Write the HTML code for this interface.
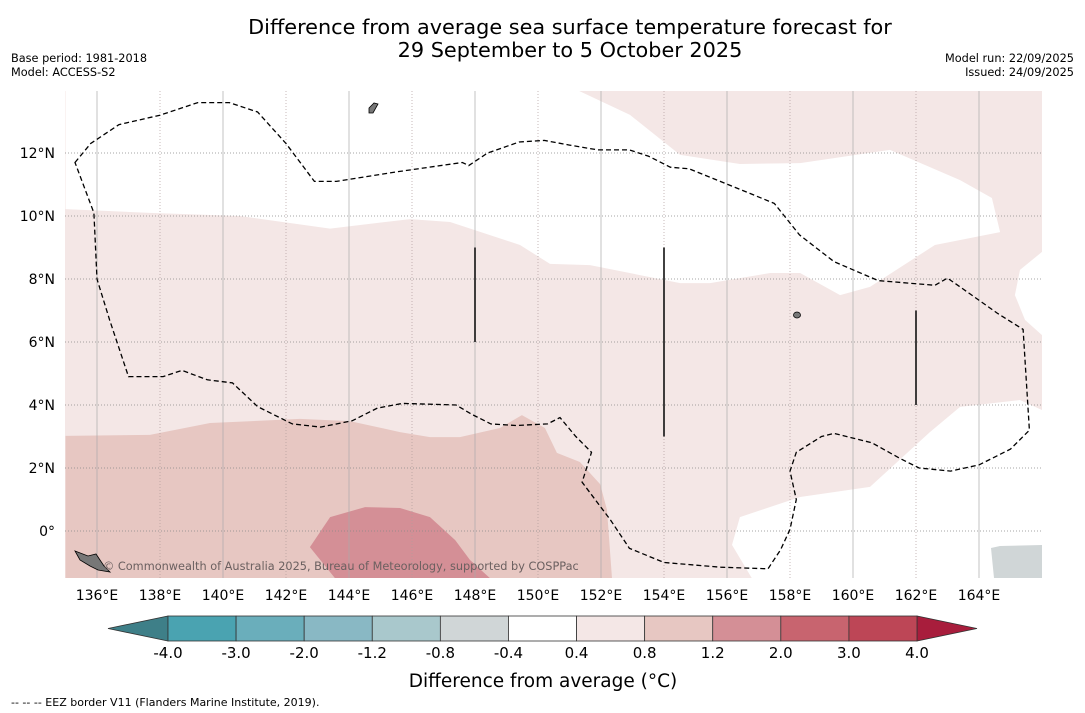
<!DOCTYPE html>
<html><head><meta charset="utf-8"><style>
body{margin:0;background:#fff;width:1085px;height:713px;overflow:hidden;font-family:"Liberation Sans","DejaVu Sans",sans-serif}
svg{position:absolute;left:0;top:0}
</style></head><body>
<svg width="1085" height="713" font-family="DejaVu Sans, Liberation Sans, sans-serif">
<text x="570" y="34" font-size="20.8" text-anchor="middle">Difference from average sea surface temperature forecast for</text>
<text x="570" y="57" font-size="20.8" text-anchor="middle">29 September to 5 October 2025</text>
<text x="11" y="62" font-size="11.3">Base period: 1981-2018</text>
<text x="11" y="76" font-size="11.3">Model: ACCESS-S2</text>
<text x="1074" y="62" font-size="11.3" text-anchor="end">Model run: 22/09/2025</text>
<text x="1074" y="76" font-size="11.3" text-anchor="end">Issued: 24/09/2025</text>
<defs><clipPath id="mc"><rect x="65" y="91" width="977" height="487"/></clipPath></defs>
<g id="map" clip-path="url(#mc)"></g>
<g id="ticks"></g>
<g id="cbar"></g>
<text x="543" y="687" font-size="18.5" text-anchor="middle">Difference from average (°C)</text>
<text x="11" y="706" font-size="11">--  --  -- EEZ border V11 (Flanders Marine Institute, 2019).</text>
</svg>
<script>
const NS="http://www.w3.org/2000/svg";
const lonTicks=[136,138,140,142,144,146,148,150,152,154,156,158,160,162,164];
const latTicks=[12,10,8,6,4,2,0];
const cbLevels=[-4.0,-3.0,-2.0,-1.2,-0.8,-0.4,0.4,0.8,1.2,2.0,3.0,4.0];
const cbColors=["#4aa3b1","#6aaebb","#89b8c4","#a9c8cc","#d0d6d7","#ffffff","#f4e7e6","#e7c7c2","#d48f96","#c8646f","#bd4656"];
const whiteTop=[[135,14],[135,10.22],[137.68,10.1],[140.54,10.0],[143.4,9.6],[145.94,9.9],[147.21,9.81],[149.43,9.08],[150.38,8.48],[151.65,8.44],[154.51,7.87],[155.46,7.87],[157.37,8.19],[158.32,8.19],[159.59,7.49],[160.54,7.75],[162.6,9.08],[164.67,9.49],[164.41,10.57],[163.4,11.14],[161.17,12.1],[158.32,11.68],[156.41,11.65],[154.51,11.94],[152.92,13.21],[151.24,14]];
const whiteRight=[[166,8.86],[165.3,8.29],[165.14,7.49],[165.46,6.7],[166,6.22]];
const whiteBR=[[166,3.84],[165.3,4.16],[163.4,3.94],[162.44,3.14],[160.54,1.4],[158.32,1.08],[156.41,0.44],[156.16,-0.44],[156.79,-1.5],[166,-1.5]];
const mid=[[135,3.02],[137.68,3.05],[139.59,3.43],[142.44,3.56],[144.03,3.49],[145.62,3.14],[146.57,2.98],[147.52,2.98],[148.79,3.27],[149.49,3.68],[150.22,3.27],[150.6,2.48],[151.33,2.19],[151.97,1.49],[152.19,0.67],[152.35,-1.5],[135,-1.5]];
const dark=[[142.76,-0.51],[143.4,0.44],[144.51,0.76],[145.62,0.73],[146.57,0.44],[147.37,-0.29],[147.84,-0.92],[148.48,-1.5],[143.56,-1.5]];
const eez=[[135.3,11.7],[135.8,12.3],[136.7,12.9],[138,13.2],[139.2,13.6],[140.2,13.6],[141.1,13.3],[142,12.3],[142.9,11.1],[143.6,11.1],[145.5,11.4],[147.6,11.7],[147.8,11.6],[148.4,12],[149.4,12.35],[150.2,12.4],[151,12.25],[151.9,12.1],[152.9,12.1],[153.5,11.9],[154.2,11.55],[154.8,11.5],[156.4,10.85],[157.5,10.4],[158.3,9.4],[159.4,8.55],[160.8,7.95],[162.6,7.8],[163,8.03],[163.4,7.75],[164.6,6.9],[165.4,6.4],[165.6,3.2],[165,2.6],[164,2.1],[163.1,1.9],[162.1,2.0],[161.5,2.3],[160.6,2.8],[159.4,3.1],[159,3.0],[158.2,2.5],[158,1.9],[158.2,1.0],[158,0.05],[157.7,-0.6],[157.3,-1.2],[155.8,-1.15],[154,-1.0],[152.9,-0.55],[152.3,0.35],[151.4,1.55],[151.7,2.5],[151.2,3.0],[150.7,3.6],[150.3,3.4],[149.3,3.35],[148.5,3.4],[147.9,3.7],[147.4,4.0],[145.7,4.05],[144.9,3.9],[144.1,3.5],[143.1,3.3],[142.2,3.4],[141.1,3.95],[140.3,4.7],[139.5,4.8],[138.7,5.1],[138.1,4.9],[137,4.9],[136.4,6.7],[136,8],[135.9,10.1],[135.3,11.7]];
const vbars=[[148,9,6],[154,9,3],[162,7,4]];
const X=l=>97+(l-136)*31.5, Y=a=>531-a*31.5;
const map=document.getElementById('map');
function el(t,a,p){const e=document.createElementNS(NS,t);for(const k in a)e.setAttribute(k,a[k]);(p||map).appendChild(e);return e;}
function pts(arr){return arr.map(p=>X(p[0]).toFixed(1)+','+Y(p[1]).toFixed(1)).join(' ');}
let e=el('rect',{x:65,y:91,width:977,height:487,fill:cbColors[6]});

[[whiteTop,'#fff','white-region-north'],[whiteRight,'#fff','white-region-east'],[whiteBR,'#fff','white-region-southeast'],[mid,cbColors[7],'anomaly-0.8-1.2-region'],[dark,cbColors[8],'anomaly-1.2-2.0-region']].forEach(d=>{
 const p=el('polygon',{points:pts(d[0]),fill:d[1]});
 
});
e=el('polygon',{points:'991,548 1000,546 1042,545 1042,578 994,578',fill:'#d0d6d7'});

lonTicks.forEach((l,i)=>{const g=el('line',{x1:X(l),x2:X(l),y1:91,y2:578,stroke:i%2?'#b09c9c':'#aaa','stroke-width':0.7,'stroke-dasharray':i%2?'1,2':'none'});
 });
latTicks.forEach(a=>{const g=el('line',{x1:65,x2:1042,y1:Y(a),y2:Y(a),stroke:'#888','stroke-width':0.8,'stroke-dasharray':'1,2'});
 });
e=el('polygon',{points:'75,551 88,556 96,554 104,566 110,572 98,570 90,566 80,560',fill:'#777',stroke:'#000','stroke-width':0.8});

e=el('polygon',{points:'369,108 374,103 378,104 373,113 369,113',fill:'#777',stroke:'#000','stroke-width':0.8});

e=el('ellipse',{cx:797,cy:315,rx:3.5,ry:3,fill:'#777',stroke:'#000','stroke-width':0.8});

e=el('polygon',{points:pts(eez),fill:'none',stroke:'#000','stroke-width':1.3,'stroke-dasharray':'5,3'});

vbars.forEach(v=>{const b=el('line',{x1:X(v[0]),x2:X(v[0]),y1:Y(v[1]),y2:Y(v[2]),stroke:'#111','stroke-width':1.6});
 });
e=el('text',{x:103,y:570,'font-size':11.3,fill:'#6b6060'});e.textContent='© Commonwealth of Australia 2025, Bureau of Meteorology, supported by COSPPac';

const tk=document.getElementById('ticks');
lonTicks.forEach(l=>{const t=el('text',{x:X(l),y:600,'font-size':14,'text-anchor':'middle'},tk);t.textContent=l+'°E';
 });
latTicks.forEach(a=>{const t=el('text',{x:55,y:Y(a)+5,'font-size':14,'text-anchor':'end'},tk);t.textContent=a===0?'0°':a+'°N';
 });
const cb=document.getElementById('cbar');
const cx0=168,cw=(917-168)/cbColors.length,cy=616,ch=25;
e=el('polygon',{points:`${cx0},${cy} ${cx0},${cy+ch} 108,${cy+ch/2}`,fill:'#3e7f88',stroke:'#333','stroke-width':0.8},cb);

e=el('polygon',{points:`917,${cy} 917,${cy+ch} 977,${cy+ch/2}`,fill:'#a81d3c',stroke:'#333','stroke-width':0.8},cb);

cbColors.forEach((c,i)=>{const r=el('rect',{x:cx0+i*cw,y:cy,width:cw,height:ch,fill:c,stroke:'#333','stroke-width':0.8},cb);
 });
cbLevels.forEach((v,i)=>{const t=el('text',{x:cx0+i*cw,y:658,'font-size':15,'text-anchor':'middle'},cb);t.textContent=v.toFixed(1);
 });
</script>
</body></html>
